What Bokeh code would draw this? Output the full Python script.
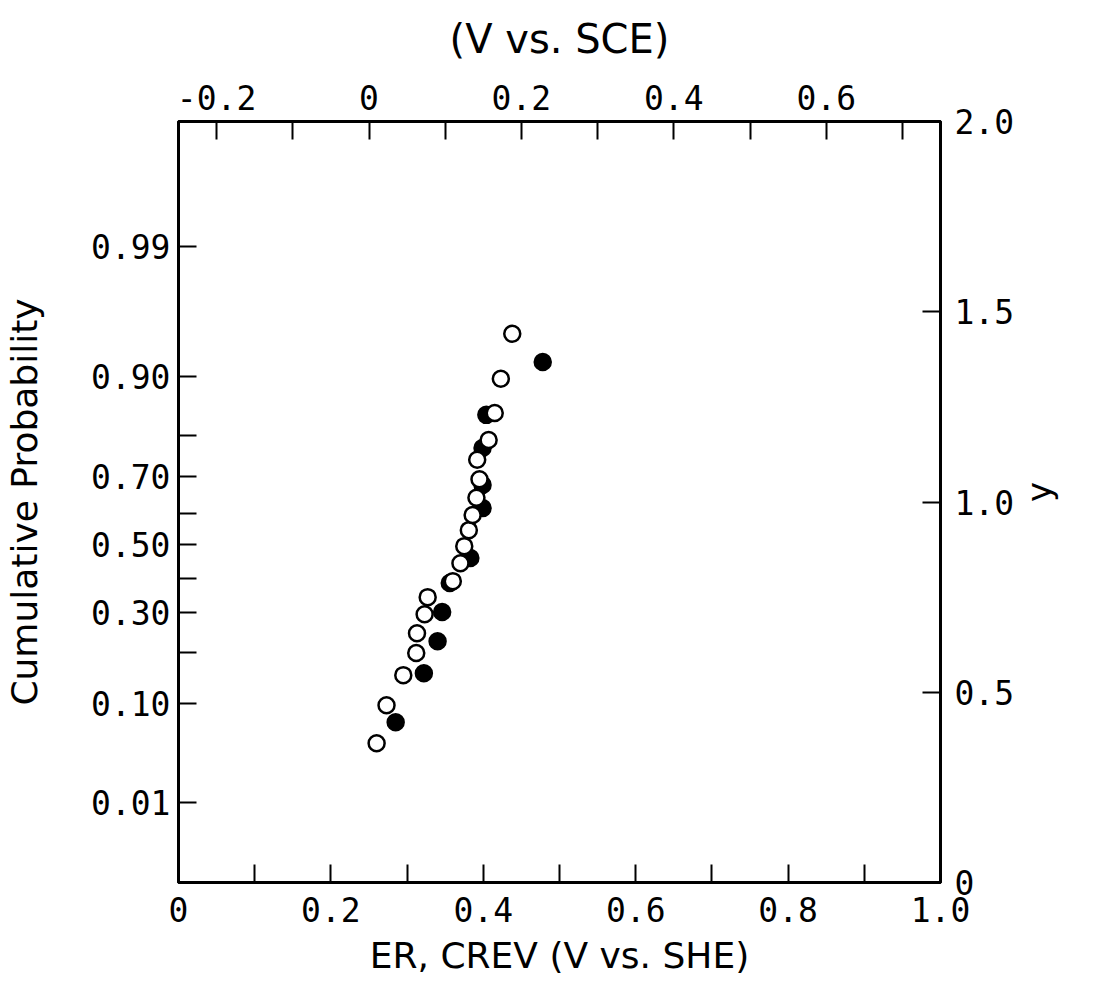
import math
from bokeh.plotting import figure
from bokeh.models import Range1d, LinearAxis, FixedTicker
from bokeh.embed import file_html
from bokeh.resources import INLINE

# ---- data ----
open_x = [0.260, 0.273, 0.295, 0.312, 0.313, 0.323, 0.327, 0.360, 0.370, 0.375,
          0.381, 0.386, 0.391, 0.395, 0.392, 0.407, 0.415, 0.423, 0.438]
open_y = [0.366, 0.466, 0.545, 0.603, 0.655, 0.705, 0.750, 0.792, 0.839, 0.884,
          0.926, 0.966, 1.011, 1.060, 1.111, 1.163, 1.234, 1.324, 1.442]
filled_x = [0.285, 0.322, 0.340, 0.346, 0.356, 0.383, 0.399, 0.399, 0.399, 0.404, 0.478]
filled_y = [0.421, 0.550, 0.634, 0.711, 0.787, 0.853, 0.984, 1.045, 1.142, 1.229, 1.368]

# cumulative probability scale (left axis): y position of each probability tick
prob_tick_y = [0.2105, 0.471, 0.605, 0.7105, 0.800, 0.889, 0.971, 1.068, 1.174, 1.329, 1.672]
prob_tick_labels = ["0.01", "0.10", "", "0.30", "", "0.50", "", "0.70", "", "0.90", "0.99"]

she_ticks = [0.0, 0.1, 0.2, 0.3, 0.4, 0.5, 0.6, 0.7, 0.8, 0.9, 1.0]
she_labels = ["0", "", "0.2", "", "0.4", "", "0.6", "", "0.8", "", "1.0"]

sce_offset = 0.25
sce_ticks = [-0.2, -0.1, 0.0, 0.1, 0.2, 0.3, 0.4, 0.5, 0.6, 0.7]
sce_labels = ["-0.2", "", "0", "", "0.2", "", "0.4", "", "0.6", ""]

y_ticks = [0.0, 0.5, 1.0, 1.5, 2.0]
y_labels = ["0", "0.5", "1.0", "1.5", "2.0"]

TICK_FONT = "DejaVu Sans Mono"
TITLE_FONT = "DejaVu Sans"
TICK_SIZE = "33px"

p = figure(frame_width=762, frame_height=761,
           x_range=Range1d(0, 1.0), y_range=Range1d(0, 2.0),
           min_border_left=178, min_border_top=121,
           min_border_right=135, min_border_bottom=105,
           output_backend="svg", toolbar_location=None,
           x_axis_location=None, y_axis_location=None)
p.xgrid.visible = False
p.ygrid.visible = False
p.outline_line_color = "black"
p.outline_line_width = 3
p.background_fill_color = "white"
p.border_fill_color = "white"

p.extra_x_ranges = {"sce": Range1d(0 - sce_offset, 1.0 - sce_offset)}


def style(ax, ticks, labels, standoff, title, title_size, title_standoff):
    ax.ticker = FixedTicker(ticks=ticks, minor_ticks=[])
    ax.major_label_overrides = {t: l for t, l in zip(ticks, labels)}
    ax.major_tick_in = 18
    ax.major_tick_out = 0
    ax.major_tick_line_width = 2
    ax.major_tick_line_color = "black"
    ax.minor_tick_line_color = None
    ax.axis_line_width = 3
    ax.axis_line_color = "black"
    ax.major_label_text_font = TICK_FONT
    ax.major_label_text_font_size = TICK_SIZE
    ax.major_label_text_color = "black"
    ax.major_label_standoff = standoff
    ax.axis_label = title
    ax.axis_label_text_font = TITLE_FONT
    ax.axis_label_text_font_size = title_size
    ax.axis_label_text_font_style = "normal"
    ax.axis_label_text_color = "black"
    ax.axis_label_standoff = title_standoff


bottom = LinearAxis()
style(bottom, she_ticks, she_labels, 14, "ER, CREV (V vs. SHE)", "36px", 10)
p.add_layout(bottom, "below")

top = LinearAxis(x_range_name="sce")
style(top, sce_ticks, sce_labels, 12, "(V vs. SCE)", "40px", 20)
p.add_layout(top, "above")

left = LinearAxis()
style(left, prob_tick_y, prob_tick_labels, 8, "Cumulative Probability", "36px", 43)
p.add_layout(left, "left")

right = LinearAxis()
style(right, y_ticks, y_labels, 14, "y", "34px", 22)
right.axis_label_orientation = math.pi / 2
p.add_layout(right, "right")

# data points: filled first, open on top
p.scatter(filled_x, filled_y, size=16, fill_color="black", line_color="black", line_width=2.5)
p.scatter(open_x, open_y, size=16, fill_color="white", line_color="black", line_width=2.5)

open("out.html", "w").write(file_html(p, INLINE))
